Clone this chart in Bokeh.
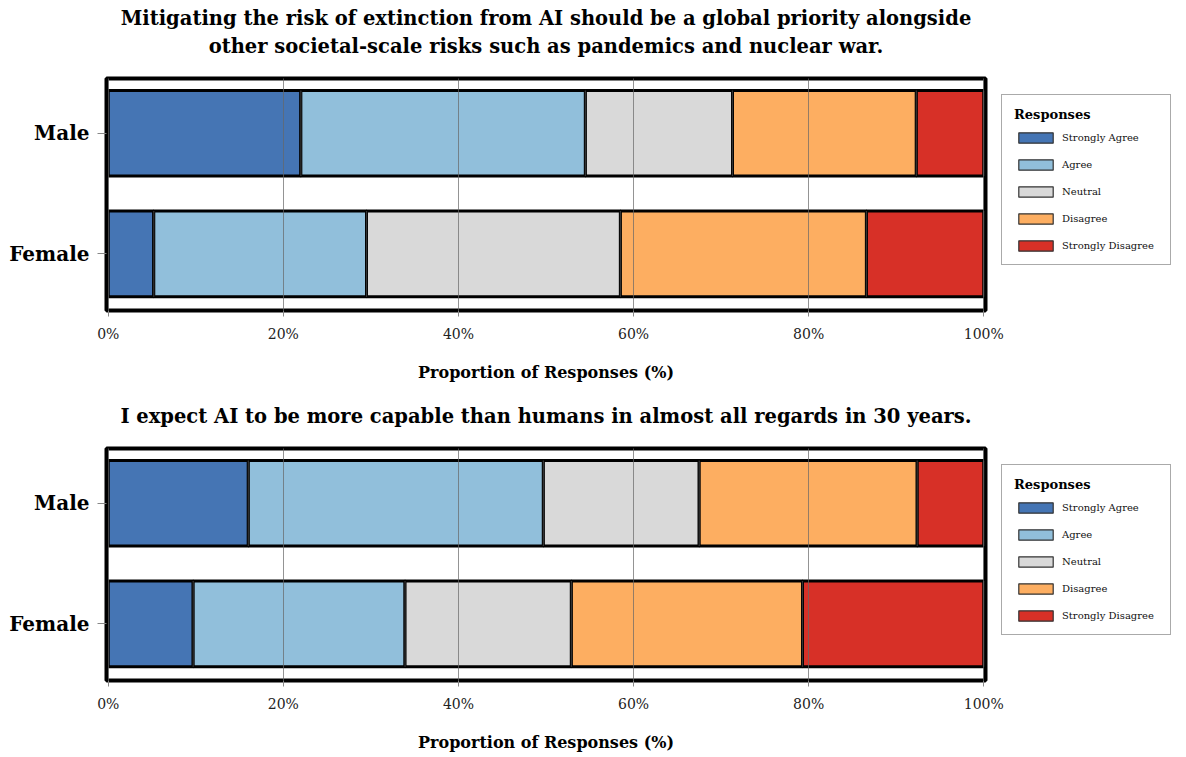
from bokeh.plotting import figure
from bokeh.models import Range1d, FixedTicker, ColumnDataSource, Legend, LegendItem, LinearAxis
from bokeh.transform import stack
from bokeh.layouts import column
from bokeh.embed import file_html
from bokeh.resources import INLINE

FONT = "DejaVu Serif"

genders = ["Female", "Male"]
responses = ["Strongly Agree", "Agree", "Neutral", "Disagree", "Strongly Disagree"]
colors = ["#4575b4", "#91bfdb", "#d9d9d9", "#fdae61", "#d73027"]

x_ticks = [0, 20, 40, 60, 80, 100]
x_tick_labels = ["0%", "20%", "40%", "60%", "80%", "100%"]
x_label = "Proportion of Responses (%)"
legend_title = "Responses"

q1_title_lines = ["Mitigating the risk of extinction from AI should be a global priority alongside",
                  "other societal-scale risks such as pandemics and nuclear war."]
# values per gender: [Female, Male]
q1_strongly_agree = [5.2, 22.0]
q1_agree = [24.3, 32.5]
q1_neutral = [29.0, 16.8]
q1_disagree = [28.1, 21.0]
q1_strongly_disagree = [13.4, 7.7]

q2_title_lines = ["I expect AI to be more capable than humans in almost all regards in 30 years."]
q2_strongly_agree = [9.7, 16.0]
q2_agree = [24.2, 33.7]
q2_neutral = [19.0, 17.8]
q2_disagree = [26.4, 24.9]
q2_strongly_disagree = [20.7, 7.6]


def make_fig(title_lines, series, top):
    p = figure(frame_width=879, frame_height=232, title=None,
               x_range=Range1d(-0.2, 100.2), y_range=Range1d(-0.47, 1.455),
               output_backend="svg", toolbar_location=None,
               min_border_left=106, min_border_right=201,
               min_border_top=top, min_border_bottom=76)

    # title lines as labels of tick-less axes above the plot (first added = closest)
    for i, line in enumerate(reversed(title_lines)):
        ax = LinearAxis(ticker=FixedTicker(ticks=[-1000.0]), axis_label=line,
                        axis_line_color=None, major_tick_line_color=None,
                        minor_tick_line_color=None, major_tick_out=0, major_tick_in=0,
                        minor_tick_out=0, minor_tick_in=0,
                        major_label_text_font_size="0px", major_label_text_alpha=0,
                        major_label_standoff=0,
                        axis_label_text_font=FONT, axis_label_text_font_size="19.5px",
                        axis_label_text_font_style="bold", axis_label_text_color="black",
                        axis_label_standoff=21 if i == 0 else 2)
        p.add_layout(ax, "above")

    data = {"y": list(range(len(genders)))}
    for r, vals in zip(responses, series):
        data[r] = vals
    source = ColumnDataSource(data)
    p.hbar_stack(responses, y="y", height=0.71, fill_color=colors,
                 line_color="black", line_width=3, source=source)

    # legend swatches: zero-width bars sitting on each segment's right edge
    items = []
    for k, (r, c) in enumerate(zip(responses, colors)):
        edge = stack(*responses[:k + 1])
        rd = p.hbar(y="y", left=edge, right=edge, height=0.71, fill_color=c,
                    line_color="#333333", line_width=1.2, source=source)
        items.append(LegendItem(label=r, renderers=[rd]))
    legend = Legend(items=items, location="top_left", title=legend_title)
    legend.margin = 16
    legend.title_text_font = FONT
    legend.title_text_font_size = "13px"
    legend.title_text_font_style = "bold"
    legend.title_text_color = "black"
    legend.title_standoff = 9
    legend.label_text_font = FONT
    legend.label_text_font_size = "10px"
    legend.label_text_color = "#111111"
    legend.glyph_width = 43
    legend.glyph_height = 13
    legend.label_height = 13
    legend.label_width = 96
    legend.spacing = 14
    legend.padding = 12
    legend.border_line_color = "#555555"
    legend.border_line_width = 1
    legend.background_fill_color = "white"
    legend.background_fill_alpha = 1
    p.add_layout(legend, "right")

    p.outline_line_color = "black"
    p.outline_line_width = 4
    p.outline_line_alpha = 1

    xa = p.below[0]
    xa.ticker = FixedTicker(ticks=x_ticks)
    xa.major_label_overrides = dict(zip(x_ticks, x_tick_labels))
    xa.axis_label = x_label
    xa.axis_label_text_font = FONT
    xa.axis_label_text_font_size = "16px"
    xa.axis_label_text_font_style = "bold"
    xa.axis_label_text_color = "black"
    xa.axis_label_standoff = 18
    xa.major_label_text_font = FONT
    xa.major_label_text_font_size = "14px"
    xa.major_label_text_color = "#222222"
    xa.major_label_standoff = 9
    xa.major_tick_out = 6
    xa.major_tick_in = 0
    xa.major_tick_line_color = "#888888"
    xa.minor_tick_line_color = None
    xa.axis_line_color = None

    ya = p.left[0]
    ya.ticker = FixedTicker(ticks=list(range(len(genders))))
    ya.major_label_overrides = {i: g for i, g in enumerate(genders)}
    ya.major_label_text_font = FONT
    ya.major_label_text_font_size = "20px"
    ya.major_label_text_font_style = "bold"
    ya.major_label_text_color = "black"
    ya.major_label_standoff = 8
    ya.major_tick_out = 9
    ya.major_tick_in = 0
    ya.major_tick_line_color = "#888888"
    ya.minor_tick_line_color = None
    ya.axis_line_color = None

    p.ygrid.grid_line_color = None
    p.xgrid.ticker = FixedTicker(ticks=x_ticks)
    p.xgrid.grid_line_color = "#666666"
    p.xgrid.grid_line_alpha = 0.7
    p.xgrid.grid_line_width = 1
    p.xgrid.level = "overlay"
    return p


p1 = make_fig(q1_title_lines,
              [q1_strongly_agree, q1_agree, q1_neutral, q1_disagree, q1_strongly_disagree],
              top=78)
p2 = make_fig(q2_title_lines,
              [q2_strongly_agree, q2_agree, q2_neutral, q2_disagree, q2_strongly_disagree],
              top=62)

layout = column(p1, p2, spacing=0)
open("out.html", "w").write(file_html(layout, INLINE))
